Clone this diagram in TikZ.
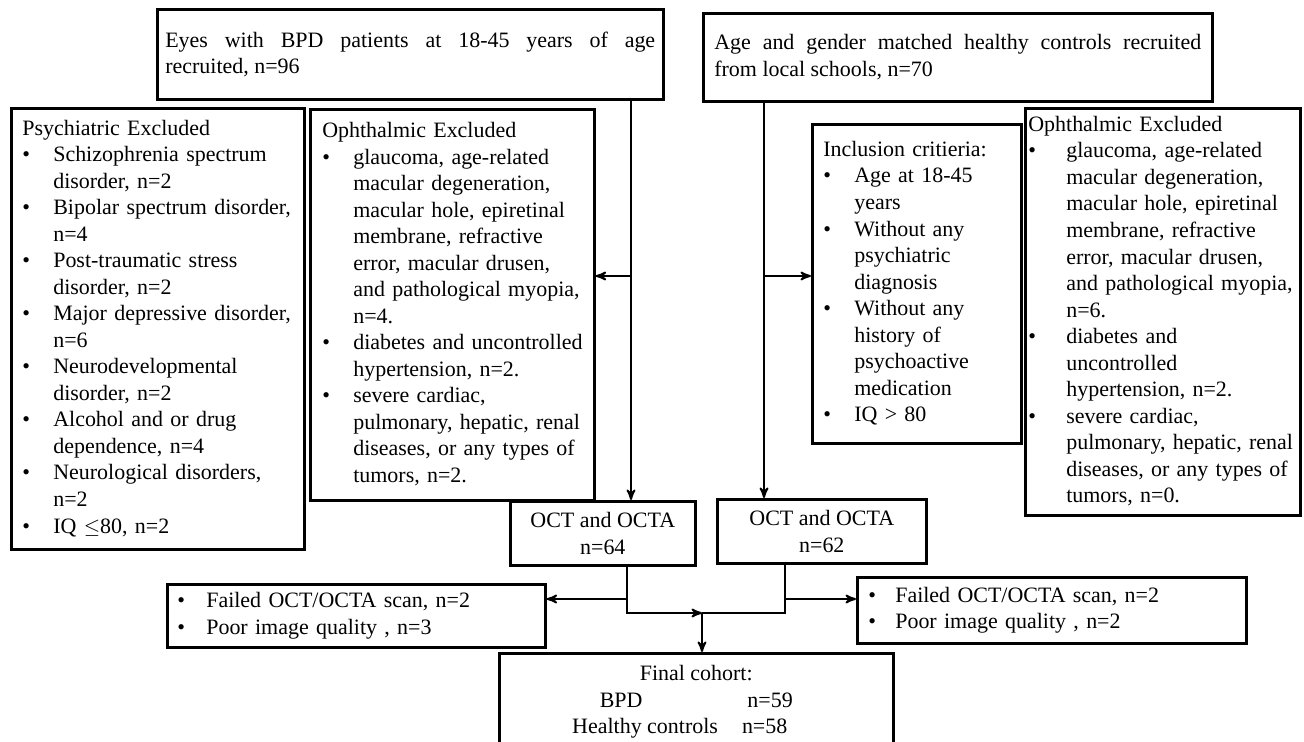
\documentclass[tikz,border=0pt]{standalone}
\usepackage{fontspec}
\setmainfont{Liberation Serif}
\usetikzlibrary{arrows}

\begin{document}
\begin{tikzpicture}[->,>=stealth',line width=1.1pt,x=0.02cm,y=-0.02cm]
    \tikzstyle{box}=[draw=black, rectangle, line width=1.5pt, anchor=north west, inner ysep=0pt, font={\fontsize{12.5pt}{15.1pt}\selectfont}, text=black]
    \tikzstyle{list}=[box, align=left]
    \tikzstyle{count}=[box, align=center]

    \path[use as bounding box, fill=white] (0,0) rectangle (1304,742);

    \node[box, align=justify, minimum width=10.12cm, minimum height=1.80cm, inner xsep=0.16cm, text width=9.80cm] (bpd) at (156,8)
      {Eyes with BPD patients at 18-45 years of age\linebreak recruited, n=96};
    \node[box, align=justify, minimum width=10.18cm, minimum height=1.76cm, inner xsep=0.22cm, text width=9.74cm] (hc) at (702,12)
      {Age and gender matched healthy controls recruited\linebreak from local schools, n=70};

    \node[list, minimum width=5.86cm, minimum height=8.82cm, inner xsep=0.22cm, text width=5.42cm] (psy) at (10,107)
      {\begin{tabular}{@{}p{0.62cm}@{}l@{}}
       \multicolumn{2}{@{}l@{}}{Psychiatric Excluded}\\
       \textbullet & Schizophrenia spectrum\\
                   & disorder, n=2\\
       \textbullet & Bipolar spectrum disorder,\\
                   & n=4\\
       \textbullet & Post-traumatic stress\\
                   & disorder, n=2\\
       \textbullet & Major depressive disorder,\\
                   & n=6\\
       \textbullet & Neurodevelopmental\\
                   & disorder, n=2\\
       \textbullet & Alcohol and or drug\\
                   & dependence, n=4\\
       \textbullet & Neurological disorders,\\
                   & n=2\\
       \textbullet & IQ $\leq$80, n=2
       \end{tabular}};

    \node[list, minimum width=5.68cm, minimum height=7.82cm, inner xsep=0.24cm, text width=5.20cm] (exbpd) at (309,108)
      {\begin{tabular}{@{}p{0.62cm}@{}l@{}}
       \multicolumn{2}{@{}l@{}}{Ophthalmic Excluded}\\
       \textbullet & glaucoma, age-related\\
                   & macular degeneration,\\
                   & macular hole, epiretinal\\
                   & membrane, refractive\\
                   & error, macular drusen,\\
                   & and pathological myopia,\\
                   & n=4.\\
       \textbullet & diabetes and uncontrolled\\
                   & hypertension, n=2.\\
       \textbullet & severe cardiac,\\
                   & pulmonary, hepatic, renal\\
                   & diseases, or any types of\\
                   & tumors, n=2.
       \end{tabular}};

    \node[list, minimum width=4.18cm, minimum height=6.38cm, inner xsep=0.22cm, text width=3.74cm] (incl) at (811,123)
      {\begin{tabular}{@{}p{0.62cm}@{}l@{}}
       \multicolumn{2}{@{}l@{}}{Inclusion critieria:}\\
       \textbullet & Age at 18-45\\
                   & years\\
       \textbullet & Without any\\
                   & psychiatric\\
                   & diagnosis\\
       \textbullet & Without any\\
                   & history of\\
                   & psychoactive\\
                   & medication\\
       \textbullet & IQ > 80
       \end{tabular}};

    \node[list, minimum width=5.50cm, minimum height=8.14cm, inner xsep=0.06cm, text width=5.38cm] (exhc) at (1024,107)
      {\begin{tabular}{@{}p{0.76cm}@{}l@{}}
       \multicolumn{2}{@{}l@{}}{Ophthalmic Excluded}\\
       \textbullet & glaucoma, age-related\\
                   & macular degeneration,\\
                   & macular hole, epiretinal\\
                   & membrane, refractive\\
                   & error, macular drusen,\\
                   & and pathological myopia,\\
                   & n=6.\\
       \textbullet & diabetes and\\
                   & uncontrolled\\
                   & hypertension, n=2.\\
       \textbullet & severe cardiac,\\
                   & pulmonary, hepatic, renal\\
                   & diseases, or any types of\\
                   & tumors, n=0.
       \end{tabular}};

    \node[count, minimum width=3.70cm, minimum height=1.28cm] (octb) at (509,500) {OCT and OCTA\\n=64};
    \node[count, minimum width=4.18cm, minimum height=1.28cm] (octh) at (716,498) {OCT and OCTA\\n=62};

    \node[list, minimum width=7.56cm, minimum height=1.26cm, inner xsep=0.2cm, text width=7.16cm] (failb) at (166,583)
      {\begin{tabular}{@{}p{0.58cm}@{}l@{}}
       \textbullet & Failed OCT/OCTA scan, n=2\\
       \textbullet & Poor image quality , n=3
       \end{tabular}};
    \node[list, minimum width=7.78cm, minimum height=1.32cm, inner xsep=0.22cm, text width=7.34cm] (failh) at (856,576)
      {\begin{tabular}{@{}p{0.54cm}@{}l@{}}
       \textbullet & Failed OCT/OCTA scan, n=2\\
       \textbullet & Poor image quality , n=2
       \end{tabular}};

    \node[count, minimum width=7.88cm, inner ysep=0.24cm] (final) at (498,652)
      {Final cohort:\\BPD\hspace{2.1cm}n=59\\Healthy controls\hspace{0.48cm}n=58\hspace*{0.66cm}};

    \coordinate (sb) at (631,276);
    \coordinate (sh) at (764,276);
    \coordinate (fb) at (627,599);
    \coordinate (fh) at (785,599);
    \coordinate (mg) at (702,613);

    \draw (bpd.south -| sb) -- (octb.north -| sb);
    \draw (sb) -- (exbpd.east |- sb);
    \draw (hc.south -| sh) -- (octh.north -| sh);
    \draw (sh) -- (incl.west |- sh);
    \draw (octb.south -| fb) |- (mg);
    \draw (fb) -- (failb.east |- fb);
    \draw[-] (octh.south -| fh) |- (mg);
    \draw (fh) -- (failh.west |- fh);
    \draw (mg) -- (final.north -| mg);
\end{tikzpicture}
\end{document}
